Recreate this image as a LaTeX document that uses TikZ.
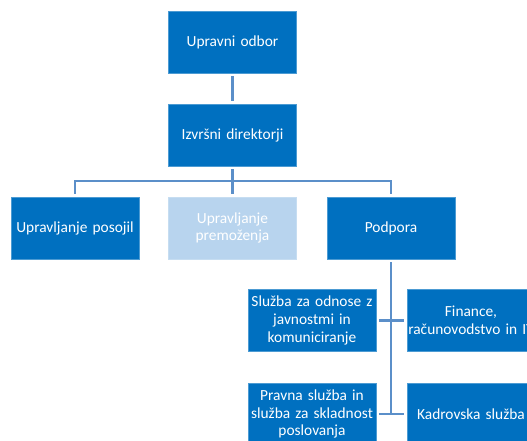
\documentclass[tikz,border=0pt]{standalone}
\usepackage{fontspec}
\setmainfont{Carlito}
\usetikzlibrary{calc}
\definecolor{orgblue}{HTML}{0070C0}
\definecolor{orglight}{HTML}{B8D4EE}
\definecolor{orgline}{HTML}{5B8FC9}
\tikzset{
  unit/.style={fill=orgblue, draw=orgblue!70!white, line width=0.6pt, text=white,
    minimum width=128pt, minimum height=62pt, inner sep=0pt, align=center,
    text width=126pt, font=\fontsize{15.4}{17.8}\selectfont},
  unitlight/.style={unit, fill=orglight, draw=orglight!80!white},
  link/.style={draw=orgline, line width=2.8pt, shorten <=3pt, shorten >=3pt}
}
\begin{document}
\begin{tikzpicture}[x=1pt, y=-1pt]
  \useasboundingbox (0,0) rectangle (527,441);
  \clip (0,0) rectangle (527,441);
  % levels
  \node[unit] (board) at (232.5,42) {Upravni odbor};
  \node[unit] (exec) at (232.5,135) {Izvršni direktorji};
  \node[unit] (loans) at (75,228) {Upravljanje posojil};
  \node[unitlight] (assets) at (232.5,228) {Upravljanje\\premoženja};
  \node[unit] (support) at (391,228) {Podpora};
  % support units
  \node[unit] (pr) at (312,320.5) {Služba za odnose z\\javnostmi in\\komuniciranje};
  \node[unit] (fin) at (471,320.5) {Finance,\\računovodstvo in IT};
  \node[unit] (legal) at (312,414) {Pravna služba in\\služba za skladnost\\poslovanja};
  \node[unit] (hr) at (471,414) {Kadrovska služba};
  % connectors
  \coordinate (bar) at (232.5,181);
  \draw[link] (board) -- (exec);
  \draw[link] (exec) -- (assets);
  \draw[link] (loans.north) |- (bar) -| (support.north);
  \draw[link, shorten >=0pt] (support) -- (support.south |- legal.east);
  \draw[link] (pr) -- (fin);
  \draw[link] (legal) -- (hr);
\end{tikzpicture}
\end{document}
